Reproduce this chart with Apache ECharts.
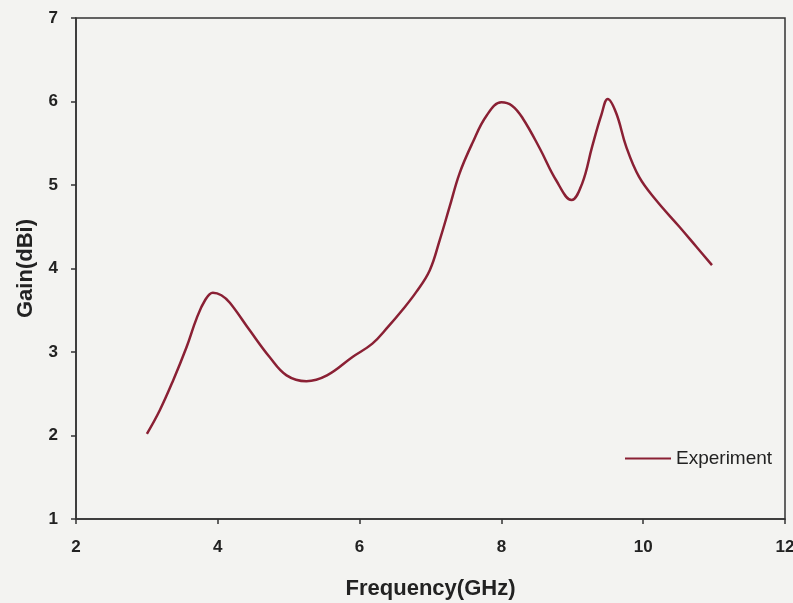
<!DOCTYPE html>
<html>
<head>
<meta charset="utf-8">
<script src="https://cdn.jsdelivr.net/npm/echarts@6/dist/echarts.min.js"></script>
<style>
html,body{margin:0;padding:0;background:#f3f3f1;}
#chart{width:793px;height:603px;}
</style>
</head>
<body>
<div id="chart"></div>
<script>
const frequency = [3.0, 3.18, 3.37, 3.56, 3.70, 3.82, 3.93, 4.05, 4.17, 4.45, 4.73, 4.97, 5.25, 5.54, 5.90, 6.18, 6.40, 6.60, 6.80, 6.99, 7.13, 7.27, 7.41, 7.59, 7.79, 8.0, 8.15, 8.30, 8.54, 8.77, 8.99, 9.14, 9.28, 9.41, 9.50, 9.62, 9.76, 9.94, 10.18, 10.51, 10.75, 10.97];
const gain = [2.02, 2.30, 2.66, 3.06, 3.40, 3.62, 3.71, 3.68, 3.59, 3.26, 2.94, 2.72, 2.65, 2.72, 2.94, 3.10, 3.30, 3.50, 3.72, 3.98, 4.34, 4.74, 5.14, 5.50, 5.83, 5.99, 5.95, 5.80, 5.44, 5.06, 4.82, 5.02, 5.46, 5.84, 6.03, 5.86, 5.46, 5.10, 4.82, 4.50, 4.26, 4.04];
const seriesName = 'Experiment';
const xTicks = [2, 4, 6, 8, 10, 12];
const yTicks = [1, 2, 3, 4, 5, 6, 7];

const chart = echarts.init(document.getElementById('chart'));
chart.setOption({
  backgroundColor: '#f3f3f1',
  animation: false,
  grid: {left: 76, right: 8, top: 18, bottom: 84, outerBoundsMode: 'none', containLabel: false, show: true, borderColor: '#333', borderWidth: 1.5, backgroundColor: 'transparent'},
  legend: {
    left: 620, top: 444, itemWidth: 46, itemHeight: 14, itemGap: 10,
    icon: 'path://M0,6 L46,6 L46,8 L0,8 Z',
    itemStyle: {color: '#8a2034'},
    textStyle: {fontFamily: 'Liberation Sans, Arial', fontSize: 19, color: '#222'},
    data: [seriesName]
  },
  xAxis: {
    type: 'value', min: xTicks[0], max: xTicks[xTicks.length - 1], interval: 2,
    name: 'Frequency(GHz)', nameLocation: 'middle', nameGap: 59,
    nameTextStyle: {fontFamily: 'Liberation Sans, Arial', fontSize: 22, fontWeight: 'bold', color: '#222'},
    axisLine: {lineStyle: {color: '#333', width: 1.5}},
    axisTick: {show: true, length: 5, lineStyle: {color: '#333', width: 1.5}},
    axisLabel: {margin: 20, fontFamily: 'Liberation Sans, Arial', fontSize: 17, fontWeight: 'bold', color: '#222'},
    splitLine: {show: false}
  },
  yAxis: {
    type: 'value', min: yTicks[0], max: yTicks[yTicks.length - 1], interval: 1,
    name: 'Gain(dBi)', nameLocation: 'middle', nameGap: 39, nameRotate: 90,
    nameTextStyle: {fontFamily: 'Liberation Sans, Arial', fontSize: 22, fontWeight: 'bold', color: '#222'},
    axisLine: {show: true, lineStyle: {color: '#333', width: 1.5}},
    axisTick: {show: true, length: 5, lineStyle: {color: '#333', width: 1.5}},
    axisLabel: {margin: 18, fontFamily: 'Liberation Sans, Arial', fontSize: 17, fontWeight: 'bold', color: '#222'},
    splitLine: {show: false}
  },
  series: [{
    name: seriesName, type: 'line', smooth: 0.4, symbol: 'none',
    data: frequency.map((f, i) => [f, gain[i]]),
    lineStyle: {color: '#8a2034', width: 2.5},
    itemStyle: {color: '#8a2034'}
  }]
});
</script>
</body>
</html>
